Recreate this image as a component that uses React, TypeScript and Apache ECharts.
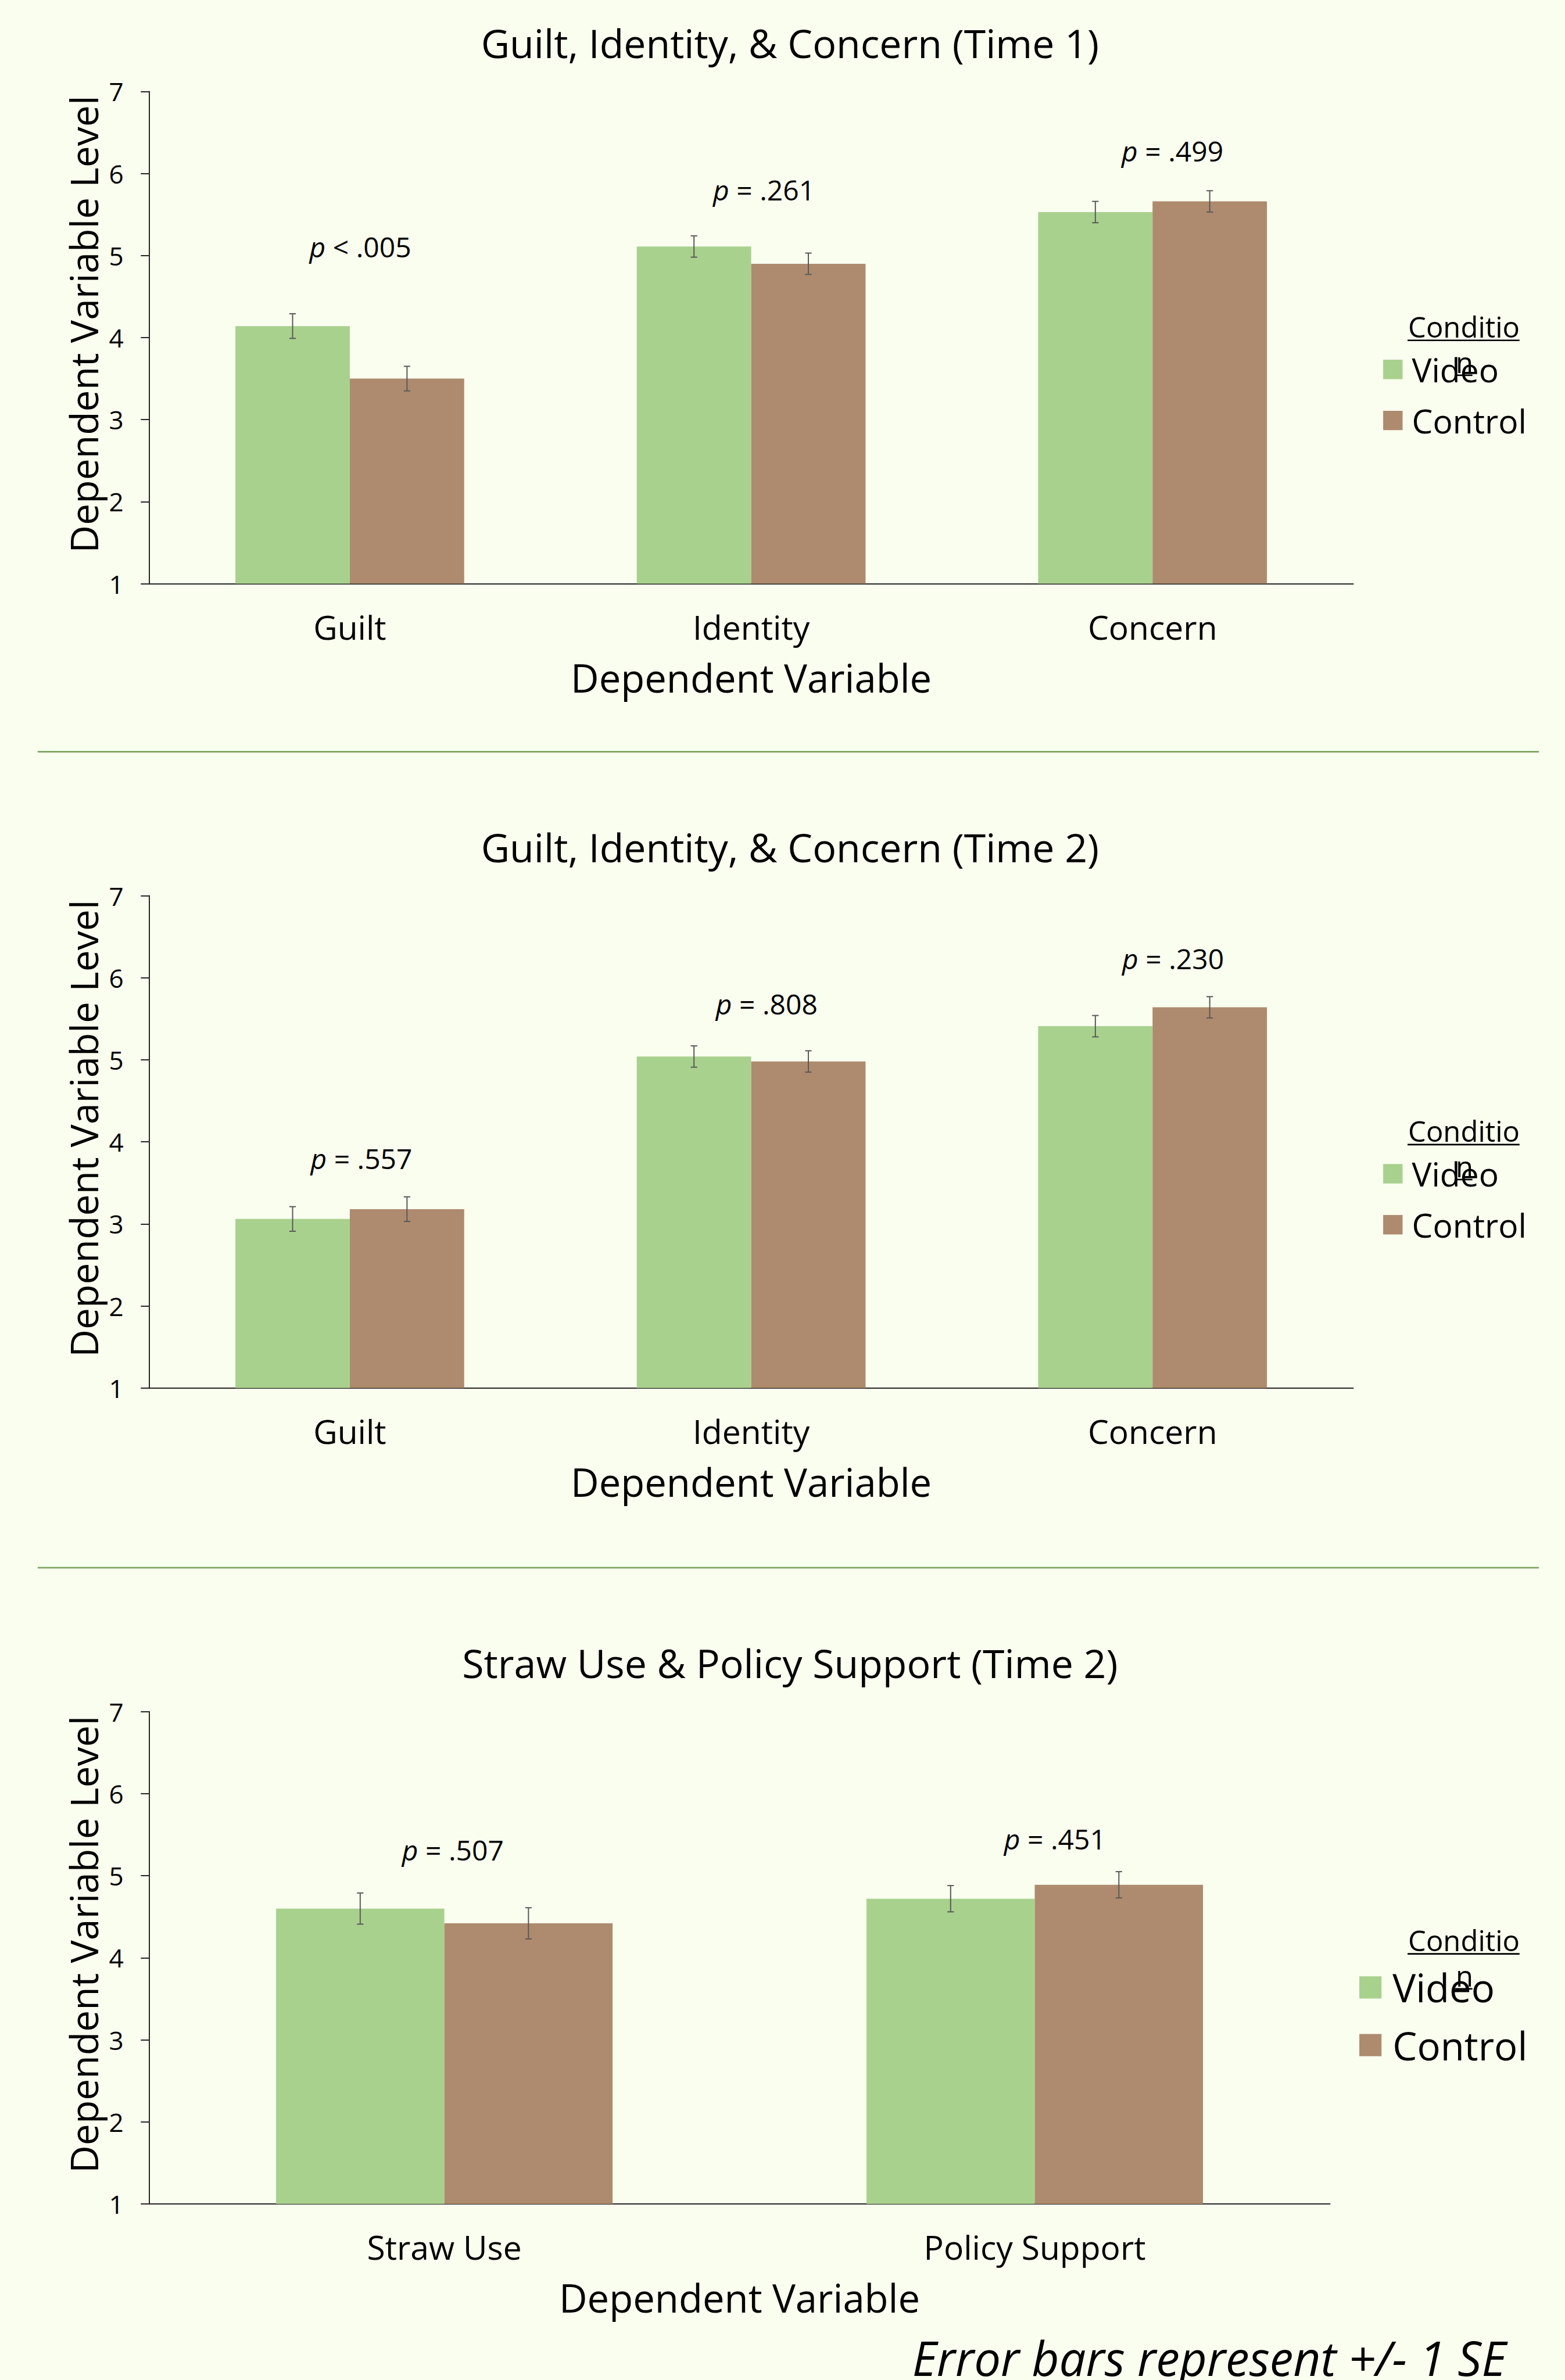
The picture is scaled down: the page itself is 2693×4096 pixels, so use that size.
import React, { useEffect, useRef } from 'react';
import * as echarts from 'echarts';

// ---------- scale (reference px -> page px) ----------
const S = 2693 / 2823;
const px = (v: number) => v * S;
const FONT = '"Open Sans", "Noto Sans", sans-serif';

// ---------- data ----------
const SERIES_NAMES = ['Video', 'Control'];
const CATEGORIES_GIC = ['Guilt', 'Identity', 'Concern'];
const CATEGORIES_STRAW = ['Straw Use', 'Policy Support'];

const TIME1_VIDEO = [4.14, 5.11, 5.53];
const TIME1_VIDEO_SE = [0.15, 0.13, 0.13];
const TIME1_CONTROL = [3.5, 4.9, 5.66];
const TIME1_CONTROL_SE = [0.15, 0.13, 0.13];
const TIME1_P = ['< .005', '= .261', '= .499'];

const TIME2_VIDEO = [3.06, 5.04, 5.41];
const TIME2_VIDEO_SE = [0.15, 0.13, 0.13];
const TIME2_CONTROL = [3.18, 4.98, 5.64];
const TIME2_CONTROL_SE = [0.15, 0.13, 0.13];
const TIME2_P = ['= .557', '= .808', '= .230'];

const STRAW_VIDEO = [4.6, 4.72];
const STRAW_VIDEO_SE = [0.19, 0.16];
const STRAW_CONTROL = [4.42, 4.89];
const STRAW_CONTROL_SE = [0.19, 0.16];
const STRAW_P = ['= .507', '= .451'];

const Y_MIN = 1;
const Y_MAX = 7;
const Y_STEP = 1;

const TITLES = [
  'Guilt, Identity, & Concern (Time 1)',
  'Guilt, Identity, & Concern (Time 2)',
  'Straw Use & Policy Support (Time 2)',
];
const X_NAME = 'Dependent Variable';
const Y_NAME = 'Dependent Variable Level';
const LEGEND_TITLE_A = 'Conditio';
const LEGEND_TITLE_B = 'n';
const FOOTNOTE = 'Error bars represent +/- 1 SE';

const COLORS = ['#A9D18E', '#AE8B6E'];

// ---------- layout (reference px) ----------
const PANELS = [
  {
    cats: CATEGORIES_GIC, video: TIME1_VIDEO, videoSe: TIME1_VIDEO_SE,
    control: TIME1_CONTROL, controlSe: TIME1_CONTROL_SE, p: TIME1_P,
    dy: 0, gridW: 2172, pPos: [[650, 444], [1378, 341], [2115, 271]], big: false,
  },
  {
    cats: CATEGORIES_GIC, video: TIME2_VIDEO, videoSe: TIME2_VIDEO_SE,
    control: TIME2_CONTROL, controlSe: TIME2_CONTROL_SE, p: TIME2_P,
    dy: 1451, gridW: 2172, pPos: [[652, 2089], [1383, 1810], [2116, 1728]], big: false,
  },
  {
    cats: CATEGORIES_STRAW, video: STRAW_VIDEO, videoSe: STRAW_VIDEO_SE,
    control: STRAW_CONTROL, controlSe: STRAW_CONTROL_SE, p: STRAW_P,
    dy: 2923, gridW: 2130, pPos: [[817, 3336], [1903, 3316]], big: true,
  },
];

const GRID_LEFT = 269;
const GRID_TOP = 165;
const GRID_H = 888;
const CAT_GAP = 0.43;
const BAR_FRAC = (1 - CAT_GAP) / 2;

function errorRender(sign: number) {
  return (params: any, api: any) => {
    const ci = api.value(0);
    const v = api.value(1);
    const e = api.value(2);
    const band = api.size([1, 0])[0];
    const bw = band * BAR_FRAC;
    const hi = api.coord([ci, v + e]);
    const lo = api.coord([ci, v - e]);
    const x = hi[0] + (sign * bw) / 2;
    const cap = 5.6;
    const style = { stroke: '#595959', lineWidth: 2 };
    return {
      type: 'group',
      children: [
        { type: 'line', shape: { x1: x, y1: hi[1], x2: x, y2: lo[1] }, style },
        { type: 'line', shape: { x1: x - cap, y1: hi[1], x2: x + cap, y2: hi[1] }, style },
        { type: 'line', shape: { x1: x - cap, y1: lo[1], x2: x + cap, y2: lo[1] }, style },
      ],
    };
  };
}

function buildOption() {
  const axisLine = { color: '#262626', width: 2 };
  const grid: any[] = [];
  const xAxis: any[] = [];
  const yAxis: any[] = [];
  const series: any[] = [];
  const legend: any[] = [];
  const graphic: any[] = [];

  PANELS.forEach((p, i) => {
    grid.push({ left: px(GRID_LEFT), top: px(GRID_TOP + p.dy), width: px(p.gridW), height: px(GRID_H) });
    xAxis.push({
      type: 'category', gridIndex: i, data: p.cats,
      axisLine: { show: true, lineStyle: axisLine },
      axisTick: { show: false },
      axisLabel: { fontSize: 57, fontFamily: FONT, color: '#000', margin: px(78), verticalAlign: 'middle' },
      name: X_NAME, nameLocation: 'middle', nameGap: px(169),
      nameTextStyle: { fontSize: 67, fontFamily: FONT, color: '#000', verticalAlign: 'middle' },
    });
    yAxis.push({
      type: 'value', gridIndex: i, min: Y_MIN, max: Y_MAX, interval: Y_STEP,
      axisLine: { show: true, lineStyle: axisLine },
      axisTick: { show: true, length: px(15), lineStyle: axisLine },
      axisLabel: { fontSize: 44, fontFamily: FONT, color: '#000', margin: px(46) },
      splitLine: { show: false },
    });
    const vals = [p.video, p.control];
    const ses = [p.videoSe, p.controlSe];
    SERIES_NAMES.forEach((name, k) => {
      series.push({
        type: 'bar', name, xAxisIndex: i, yAxisIndex: i,
        data: vals[k], barGap: '0%', barCategoryGap: CAT_GAP * 100 + '%',
        itemStyle: { color: COLORS[k] }, z: 2,
      });
    });
    SERIES_NAMES.forEach((name, k) => {
      series.push({
        type: 'custom', name: name + ' SE', xAxisIndex: i, yAxisIndex: i, z: 5,
        renderItem: errorRender(k === 0 ? -1 : 1),
        encode: { x: 0, y: 1 },
        data: vals[k].map((v, ci) => [ci, v, ses[k][ci]]),
        silent: true,
      });
    });

    // legend
    const big = p.big;
    const sw = big ? px(40) : px(35);
    const lh = big ? 70 : 60;
    const centerV = big ? px(3585.5) : px(666.5 + p.dy);
    const centerC = big ? px(3689.5) : px(758.5 + p.dy);
    legend.push({
      data: SERIES_NAMES, orient: 'vertical', icon: 'rect',
      left: big ? px(2452) : px(2495), top: centerV - lh / 2,
      itemWidth: sw, itemHeight: sw, itemGap: centerC - centerV - lh, padding: 0,
      selectedMode: false, z: 8,
      textStyle: { fontSize: big ? 67 : 57, fontFamily: FONT, color: '#000', lineHeight: lh, padding: [0, 0, 0, big ? 14 : 11] },
    });

    // legend title (wrapped "Conditio" / "n", underlined)
    const base1 = p.big ? 3520 : 609 + p.dy;
    const base2 = base1 + 64;
    const ltSize = 49;
    graphic.push({ type: 'text', x: px(2540), y: px(base1) - 0.388 * ltSize, z: 10,
      style: { text: LEGEND_TITLE_A, fontSize: ltSize, fontFamily: FONT, fill: '#000', align: 'left', verticalAlign: 'middle' } });
    graphic.push({ type: 'line', z: 10, shape: { x1: px(2539), y1: px(base1 + 5), x2: px(2741), y2: px(base1 + 5) }, style: { stroke: '#000', lineWidth: 2.6 } });
    graphic.push({ type: 'text', x: px(2626), y: px(base2) - 0.388 * ltSize, z: 1,
      style: { text: LEGEND_TITLE_B, fontSize: ltSize, fontFamily: FONT, fill: '#000', align: 'left', verticalAlign: 'middle' } });
    graphic.push({ type: 'line', z: 1, shape: { x1: px(2625), y1: px(base2 + 4), x2: px(2656), y2: px(base2 + 4) }, style: { stroke: '#000', lineWidth: 2.6 } });

    // title
    graphic.push({ type: 'text', x: px(1425), y: px(77 + p.dy),
      style: { text: TITLES[i], fontSize: 68, fontFamily: FONT, fill: '#000', align: 'center', verticalAlign: 'middle' } });
    // y axis name
    graphic.push({ type: 'text', x: px(150), y: px(585 + p.dy), rotation: Math.PI / 2,
      style: { text: Y_NAME, fontSize: 66, fontFamily: FONT, fill: '#000', align: 'center', verticalAlign: 'middle' } });
    // p-value annotations
    p.p.forEach((t, j) => {
      graphic.push({ type: 'text', x: px(p.pPos[j][0]), y: px(p.pPos[j][1]) + 1,
        style: { text: '{i|p} ' + t, fontSize: 48, fontFamily: FONT, fill: '#000', align: 'center', verticalAlign: 'middle',
          rich: { i: { fontStyle: 'italic', fontSize: 48, fontFamily: FONT, fill: '#000' } } } });
    });
  });

  // separators
  [1356, 2828].forEach((y) => {
    graphic.push({ type: 'line', shape: { x1: px(68), y1: px(y - 1), x2: px(2776), y2: px(y - 1) }, style: { stroke: '#B7D2A3', lineWidth: 1 } });
    graphic.push({ type: 'line', shape: { x1: px(68), y1: px(y + 0.5), x2: px(2776), y2: px(y + 0.5) }, style: { stroke: '#6C9A4C', lineWidth: 2 } });
  });

  // footnote
  graphic.push({ type: 'text', x: px(2181), y: px(4286) - 0.388 * 81.5,
    style: { text: FOOTNOTE, fontSize: 81.5, fontStyle: 'italic', fontFamily: FONT, fill: '#000', align: 'center', verticalAlign: 'middle' } });

  return {
    animation: false,
    backgroundColor: '#F9FEEF',
    grid, xAxis, yAxis, series, legend, graphic,
  };
}

export default function App() {
  const ref = useRef<HTMLDivElement>(null);
  useEffect(() => {
    if (!ref.current) return;
    const chart = echarts.init(ref.current, null, { renderer: 'svg' });
    chart.setOption(buildOption() as any);
    return () => chart.dispose();
  }, []);
  return (
    <div
      ref={ref}
      style={{ position: 'fixed', left: 0, top: 0, width: 2693, height: 4096, background: '#F9FEEF' }}
    />
  );
}
